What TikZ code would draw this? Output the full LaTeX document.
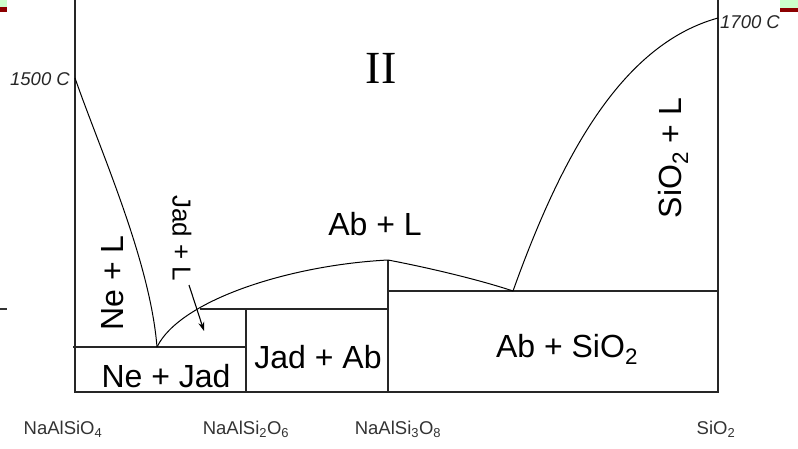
\documentclass[tikz,border=0pt]{standalone}
\usepackage{fontspec}
\setmainfont{Liberation Sans}
\newfontfamily\serifII{Liberation Serif}
\usetikzlibrary{arrows.meta}
\newcommand{\mysub}[1]{\textsubscript{#1}}
\tikzset{
  frame/.style={line width=1.8pt, draw=black!85},
  inner/.style={line width=1.1pt, draw=black!85},
  curve/.style={line width=1pt, draw=black},
  biglbl/.style={font=\fontsize{32}{34}\selectfont, inner sep=0pt},
  midlbl/.style={font=\fontsize{26}{28}\selectfont, inner sep=0pt},
  templbl/.style={font=\fontsize{18.5}{20}\selectfont\itshape, inner sep=0pt, text=black!85},
  complbl/.style={font=\fontsize{18.5}{20}\selectfont, inner sep=0pt, text=black!80},
}
\begin{document}
\begin{tikzpicture}[x=1pt,y=-1pt]
\useasboundingbox (0,0) rectangle (798,448);
% corner marks
\fill[green!20] (0,0) rectangle (7,7);
\fill[red!55!black] (0,7) rectangle (7,12);
\fill[green!20] (780,0) rectangle (798,8);
\fill[red!55!black] (780,8) rectangle (798,12);
\draw[line width=1.2pt, black!80] (0,309) -- (7,309);
% key points
\coordinate (tl) at (75,0);
\coordinate (bl) at (75,392);
\coordinate (br) at (718,392);
\coordinate (tr) at (718,0);
\coordinate (m15) at (75,78);
\coordinate (m17) at (718,18);
\coordinate (e1) at (157,347);
\coordinate (e1l) at (73,347);
\coordinate (jd) at (246,347);
\coordinate (p1) at (200,309);
\coordinate (jt) at (246,309);
\coordinate (jb) at (246,392);
\coordinate (abt) at (388,309);
\coordinate (pk) at (388,260);
\coordinate (pkb) at (388,392);
\coordinate (ab2) at (388,291);
\coordinate (e2) at (513,291);
\coordinate (sr) at (718,291);
\coordinate (arS) at (189,285);
\coordinate (arE) at (204,331);
% frame
\draw[frame] (tl) -- (bl) -- (br) -- (tr);
% solidus lines
\draw[inner] (e1l) -- (jd);
\draw[inner] (p1) -- (abt);
\draw[inner] (jt) -- (jb);
\draw[inner] (pk) -- (pkb);
\draw[inner] (ab2) -- (sr);
% liquidus curves
\draw[curve] (m15) .. controls (100,150) and (150,260) .. (e1);
\draw[curve] (e1) .. controls (180,300) and (290,265) .. (pk);
\draw[curve] (pk) .. controls (430,268) and (480,280) .. (e2);
\draw[curve] (e2) .. controls (560,160) and (620,45) .. (m17);
% arrow
\draw[line width=1.1pt, -{Stealth[length=9pt,width=6pt]}] (arS) -- (arE);
% labels
\node[font=\serifII\fontsize{46}{48}\selectfont, inner sep=0pt] (lII) at (381,68) {II};
\node[templbl, anchor=east] (l1500) at (70,79) {1500 C};
\node[templbl, anchor=west] (l1700) at (720,22) {1700 C};
\node[biglbl, rotate=90] (lNeL) at (113,283) {Ne + L};
\node[midlbl, rotate=-90] (lJadL) at (182,238) {Jad + L};
\node[biglbl] (lAbL) at (375,224) {Ab + L};
\node[biglbl, rotate=90] (lSiL) at (673,158) {SiO\mysub{2} + L};
\node[biglbl] (lNeJad) at (166,376) {Ne + Jad};
\node[biglbl] (lJadAb) at (318,357) {Jad + Ab};
\node[biglbl] (lAbSi) at (567,349) {Ab + SiO\mysub{2}};
\node[complbl] (c1) at (63,429) {NaAlSiO\mysub{4}};
\node[complbl] (c2) at (246,429) {NaAlSi\mysub{2}O\mysub{6}};
\node[complbl] (c3) at (398,429) {NaAlSi\mysub{3}O\mysub{8}};
\node[complbl] (c4) at (716,429) {SiO\mysub{2}};
\end{tikzpicture}
\end{document}
